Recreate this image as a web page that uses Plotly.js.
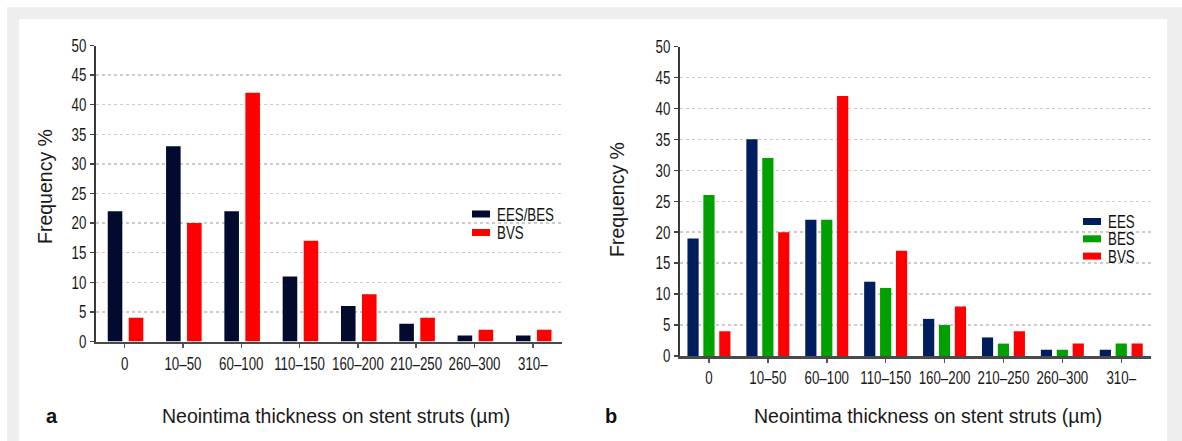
<!DOCTYPE html>
<html>
<head>
<meta charset="utf-8">
<script src="https://cdn.plot.ly/plotly-3.0.1.min.js"></script>
<style>
  html, body { margin: 0; padding: 0; background: #ffffff; }
  #chart { width: 1182px; height: 441px; }
</style>
</head>
<body>
<div id="chart"></div>
<script>
// ---- data ----
const categories = ['0', '10–50', '60–100', '110–150', '160–200', '210–250', '260–300', '310–'];
const yTicks = [0, 5, 10, 15, 20, 25, 30, 35, 40, 45, 50];

// panel a
const seriesA_names = ['EES/BES', 'BVS'];
const a_EESBES = [22, 33, 22, 11, 6, 3, 1, 1];
const a_BVS    = [4, 20, 42, 17, 8, 4, 2, 2];

// panel b
const seriesB_names = ['EES', 'BES', 'BVS'];
const b_EES = [19, 35, 22, 12, 6, 3, 1, 1];
const b_BES = [26, 32, 22, 11, 5, 2, 1, 2];
const b_BVS = [4, 20, 42, 17, 8, 4, 2, 2];

const xTitle = 'Neointima thickness on stent struts (µm)';
const yTitle = 'Frequency %';

// ---- style ----
const W = 1182, H = 441;
const px = x => x / W;
const py = y => (H - y) / H;
const CONDENSE = 0.74;

const cDark = '#020b2e', cNavy = '#001d5e', cGreen = '#00a000', cRed = '#ff0000';
const tickFont = { family: '"Liberation Sans", Arial, sans-serif', size: 18, color: '#1a1a1a' };
const titleFont = { family: '"Liberation Sans", Arial, sans-serif', size: 19.5, color: '#1a1a1a' };

function bar(y, name, color, xa, ya, width, offset) {
  return { type: 'bar', x: categories, y: y, name: name, xaxis: xa, yaxis: ya,
           marker: { color: color, line: { width: 0 } }, width: width, offset: offset,
           showlegend: false, hoverinfo: 'x+y+name' };
}

const traces = [
  bar(a_EESBES, seriesA_names[0], cDark, 'x', 'y', 0.25, -0.29),
  bar(a_BVS,    seriesA_names[1], cRed,  'x', 'y', 0.25, 0.07),
  bar(b_EES, seriesB_names[0], cNavy,  'x2', 'y2', 0.19, -0.365),
  bar(b_BES, seriesB_names[1], cGreen, 'x2', 'y2', 0.19, -0.095),
  bar(b_BVS, seriesB_names[2], cRed,   'x2', 'y2', 0.19, 0.175),
];

function xAxis(domain, anchor) {
  return { domain: domain, anchor: anchor, type: 'category', range: [-0.5, 7.5], fixedrange: true,
           showline: true, linecolor: '#4a4a4a', linewidth: 2.5, showgrid: false, zeroline: false,
           ticks: 'outside', ticklen: 4, tickwidth: 1.5, tickcolor: '#555555',
           tickangle: 0, ticklabelstandoff: 0, tickfont: tickFont };
}
function yAxis(domain, anchor) {
  return { domain: domain, anchor: anchor, range: [0, 50], tickvals: yTicks, fixedrange: true,
           showline: true, linecolor: '#3a3a3a', linewidth: 1.5, zeroline: false,
           showgrid: true, gridcolor: '#cccccc', gridwidth: 1.5, griddash: 'dot',
           ticks: 'outside', ticklen: 4, tickwidth: 1.5, tickcolor: '#444444',
           tickfont: tickFont };
}

const shapes = [
  { type: 'rect', xref: 'paper', yref: 'paper', x0: px(7), x1: 1, y0: 0, y1: py(7),
    fillcolor: '#eeeeee', line: { width: 0 }, layer: 'below' },
  { type: 'rect', xref: 'paper', yref: 'paper', x0: px(19), x1: px(1167), y0: 0, y1: py(19),
    fillcolor: '#ffffff', line: { width: 0 }, layer: 'below' },
];
const annotations = [];
const condensedAnn = [];

// manual legends
function legend(names, colors, x0, yTop, step, textX) {
  names.forEach((n, i) => {
    const y0 = yTop + i * step;
    shapes.push({ type: 'rect', xref: 'paper', yref: 'paper', x0: px(x0), x1: px(x0 + 18),
                  y0: py(y0 + 7), y1: py(y0), fillcolor: colors[i], line: { width: 0 } });
    condensedAnn.push(annotations.length);
    annotations.push({ xref: 'paper', yref: 'paper', x: px(textX), y: py(y0 + 4), text: n,
                       showarrow: false, xanchor: 'left', yanchor: 'middle',
                       font: { family: tickFont.family, size: 18, color: '#111111' } });
  });
}
legend(seriesA_names, [cDark, cRed], 472, 210.5, 18.5, 495);
legend(seriesB_names, [cNavy, cGreen, cRed], 1083, 218, 17.3, 1106);

// titles
function text(x, y, t, font, angle, anchor) {
  annotations.push({ xref: 'paper', yref: 'paper', x: px(x), y: py(y), text: t, showarrow: false,
                     xanchor: anchor || 'center', yanchor: 'middle', textangle: angle || 0, font: font });
}
text(336, 416, xTitle, titleFont);
text(928, 416, xTitle, titleFont);
text(45, 187, yTitle, titleFont, -90);
text(617, 200, yTitle, titleFont, -90);
const boldFont = { family: '"Liberation Sans", Arial, sans-serif', size: 20, color: '#111111', weight: 'bold' };
text(51.5, 416, '<b>a</b>', boldFont);
text(611, 416, '<b>b</b>', boldFont);

const layout = {
  width: W, height: H,
  margin: { l: 0, r: 0, t: 0, b: 0, pad: 0 },
  paper_bgcolor: '#ffffff', plot_bgcolor: 'rgba(0,0,0,0)',
  barmode: 'group',
  showlegend: false,
  xaxis: xAxis([px(95.5), px(562)], 'y'),
  yaxis: yAxis([py(341.5), py(45.5)], 'x'),
  xaxis2: xAxis([px(679.5), px(1150.7)], 'y2'),
  yaxis2: yAxis([py(356), py(46.5)], 'x2'),
  shapes: shapes,
  annotations: annotations,
};

// condensed look (the reference uses a condensed sans): squeeze glyphs horizontally
// by a scale transform about the text's anchor point (or its left edge)
function condense(el, keepLeft) {
  const b = el.getBBox();
  if (!b.width) return;
  const anchor = el.getAttribute('text-anchor') || getComputedStyle(el).textAnchor || 'middle';
  let p;
  if (keepLeft || anchor === 'start') p = b.x;
  else if (anchor === 'end') p = b.x + b.width;
  else p = b.x + b.width / 2;
  const t = el.getAttribute('transform') || '';
  el.setAttribute('transform', (t + ' translate(' + p.toFixed(2) + ',0) scale(' + CONDENSE +
                  ',1) translate(' + (-p).toFixed(2) + ',0)').trim());
}

Plotly.newPlot('chart', traces, layout, { displayModeBar: false, staticPlot: true }).then(gd => {
  gd.querySelectorAll('.xtick text, .x2tick text, .ytick text, .y2tick text').forEach(el => condense(el, false));
  condensedAnn.forEach(i => {
    gd.querySelectorAll('.annotation[data-index="' + i + '"] text').forEach(el => condense(el, true));
  });
});
</script>
</body>
</html>
